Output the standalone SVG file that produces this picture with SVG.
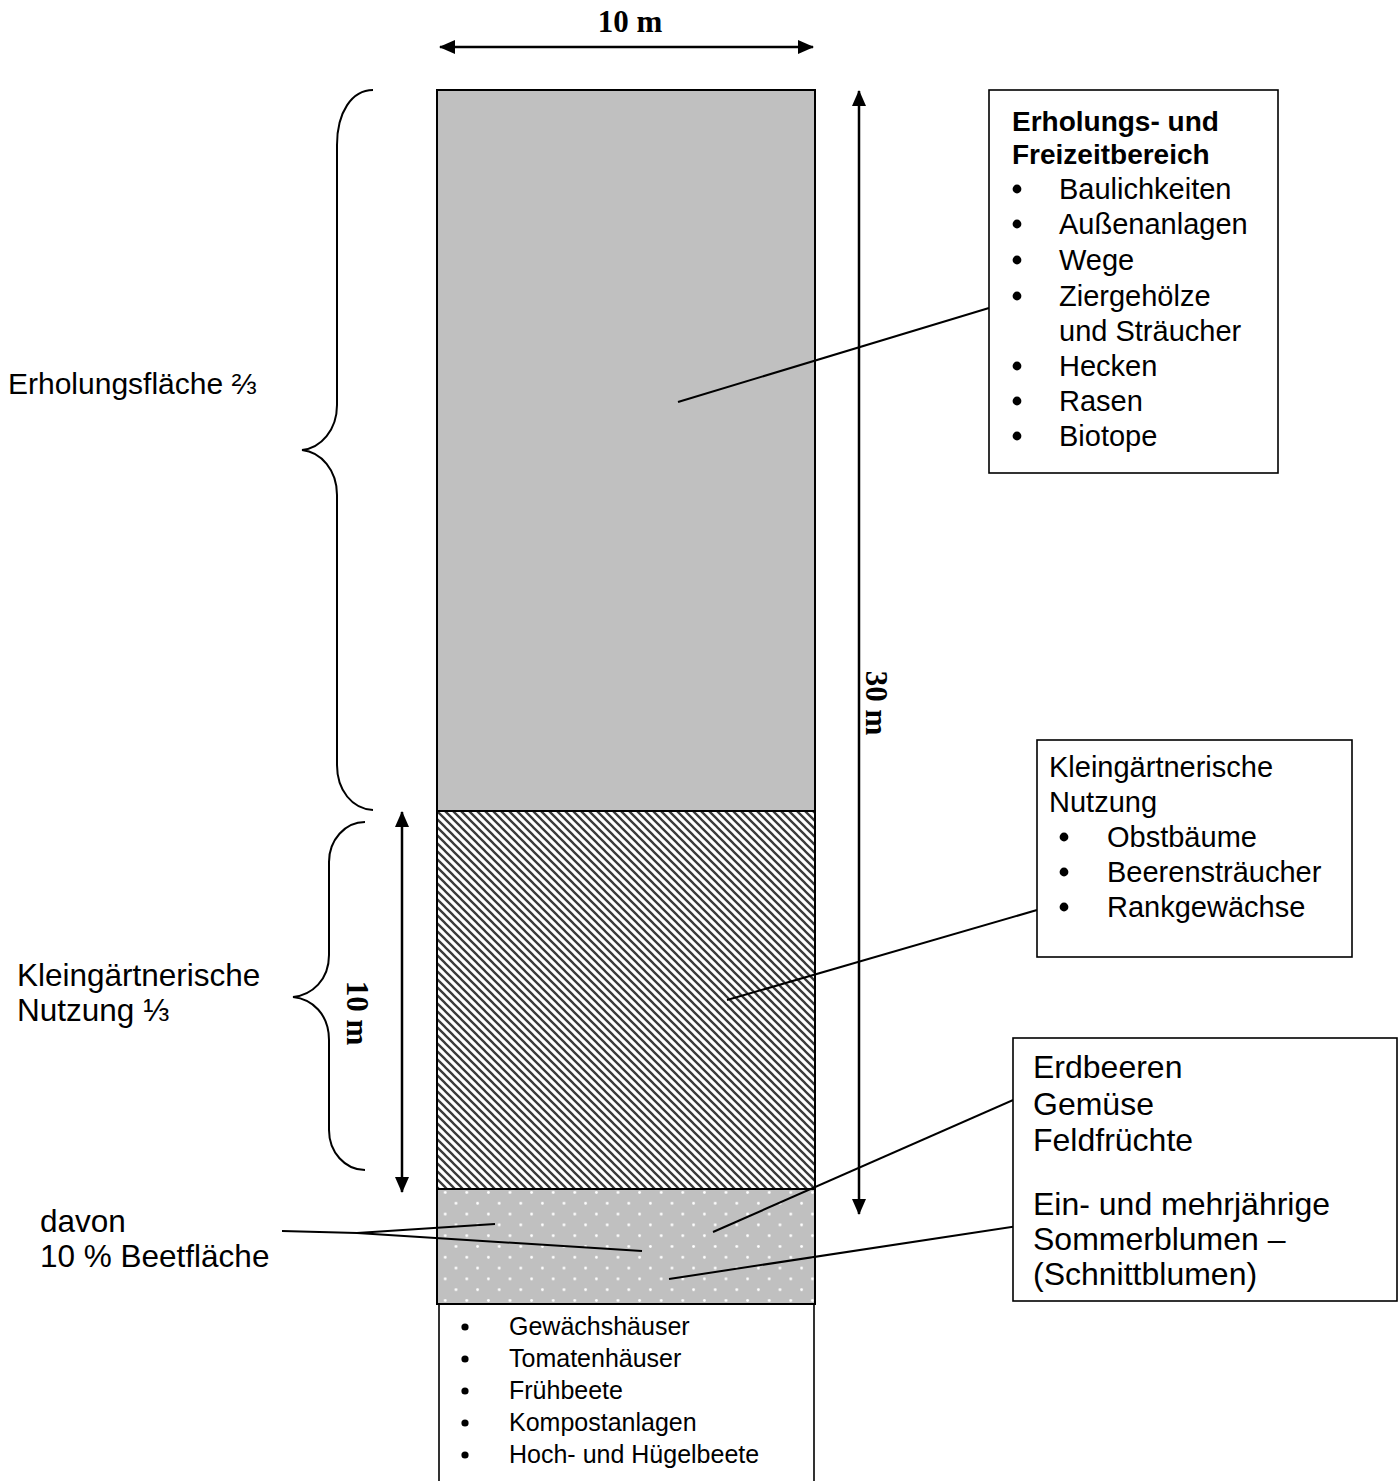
<svg xmlns="http://www.w3.org/2000/svg" width="1400" height="1481" viewBox="0 0 1400 1481">
<style>
.t{font-family:"Liberation Sans",Arial,sans-serif;fill:#000}
.dim{font-family:"Liberation Serif","Times New Roman",serif;font-weight:bold;font-size:31px;fill:#000}
.box{fill:#fff;stroke:#000;stroke-width:1.6}
.ln{fill:none;stroke:#000;stroke-width:2}
.ar{fill:none;stroke:#000;stroke-width:2.5}
.b{fill:#000}
</style>
<defs>
<pattern id="hatch" patternUnits="userSpaceOnUse" x="437" y="811" width="8" height="8">
<rect width="8" height="8" fill="#fff"/>
<path d="M-2,-2 L10,10 M-2,6 L2,10 M6,-2 L10,2" stroke="#3a3a3a" stroke-width="2.3"/>
</pattern>
<pattern id="dots" patternUnits="userSpaceOnUse" x="450.6" y="1197.9" width="21.6" height="21.6">
<rect width="21.6" height="21.6" fill="#c0c0c0"/>
<circle cx="5.4" cy="5.4" r="1.4" fill="#fff"/>
<circle cx="16.2" cy="16.2" r="1.4" fill="#fff"/>
</pattern>
<marker id="ah" viewBox="0 0 16 14" refX="15" refY="7" markerWidth="16" markerHeight="14" markerUnits="userSpaceOnUse" orient="auto-start-reverse">
<path d="M0,0 L16,7 L0,14 Z" fill="#000"/>
</marker>
</defs>
<rect width="1400" height="1481" fill="#fff"/>

<g id="plot">
<rect x="437" y="90" width="378" height="721" fill="#c0c0c0" stroke="#000" stroke-width="2"/>
<rect x="437" y="811" width="378" height="378" fill="url(#hatch)" stroke="#000" stroke-width="2"/>
<rect x="437" y="1189" width="378" height="115" fill="url(#dots)" stroke="#000" stroke-width="2"/>
<path d="M439,1304 L439,1481 M814,1304 L814,1481" stroke="#000" stroke-width="1.6" fill="none"/>
</g>

<g id="bottom-list">
<g class="b">
<circle cx="465" cy="1327" r="3.6"/>
<circle cx="465" cy="1359" r="3.6"/>
<circle cx="465" cy="1391" r="3.6"/>
<circle cx="465" cy="1423" r="3.6"/>
<circle cx="465" cy="1455" r="3.6"/>
</g>
<g class="t" font-size="25">
<text x="509" y="1335">Gewächshäuser</text>
<text x="509" y="1367">Tomatenhäuser</text>
<text x="509" y="1399">Frühbeete</text>
<text x="509" y="1431">Kompostanlagen</text>
<text x="509" y="1463">Hoch- und Hügelbeete</text>
</g>
</g>

<g id="dimensions">
<line x1="440" y1="47" x2="813" y2="47" class="ar" marker-start="url(#ah)" marker-end="url(#ah)"/>
<text x="630" y="32" class="dim" text-anchor="middle">10 m</text>
<line x1="859" y1="91" x2="859" y2="1214" class="ar" marker-start="url(#ah)" marker-end="url(#ah)"/>
<text class="dim" text-anchor="middle" transform="translate(866,703) rotate(90)">30 m</text>
<line x1="402" y1="812" x2="402" y2="1192" class="ar" marker-start="url(#ah)" marker-end="url(#ah)"/>
<text class="dim" text-anchor="middle" transform="translate(347,1013) rotate(90)">10 m</text>
</g>

<g id="braces">
<path class="ln" d="M373,90 C352,90 337,112 337,145 L337,405 C337,430 321,448 302,450 C321,452 337,470 337,495 L337,765 C337,790 352,809 373,810"/>
<path class="ln" d="M365,822 C345,822 329,840 329,862 L329,955 C329,980 312,995 293,997 C312,999 329,1014 329,1040 L329,1130 C329,1152 345,1170 365,1170"/>
</g>

<g id="left-labels" class="t" font-size="30">
<text x="8" y="394">Erholungsfläche ⅔</text>
<text x="17" y="986" font-size="31.5">Kleingärtnerische</text>
<text x="17" y="1021" font-size="31.5">Nutzung ⅓</text>
<text x="40" y="1232" font-size="31.5">davon</text>
<text x="40" y="1267" font-size="31.5">10 % Beetfläche</text>
</g>

<g id="connectors" class="ln">
<line x1="678" y1="402" x2="989" y2="308"/>
<line x1="727" y1="1000" x2="1037" y2="910"/>
<line x1="713" y1="1232" x2="1027" y2="1094"/>
<line x1="669" y1="1279" x2="1038" y2="1223"/>
<polyline points="282,1231 357,1233 495,1224"/>
<line x1="357" y1="1233" x2="642" y2="1251"/>
</g>

<g id="box-erholung">
<rect class="box" x="989" y="90" width="289" height="383"/>
<g class="t" font-size="28" font-weight="bold">
<text x="1012" y="131">Erholungs- und</text>
<text x="1012" y="164">Freizeitbereich</text>
</g>
<g class="b">
<circle cx="1017" cy="189" r="4.4"/>
<circle cx="1017" cy="224" r="4.4"/>
<circle cx="1017" cy="260" r="4.4"/>
<circle cx="1017" cy="296" r="4.4"/>
<circle cx="1017" cy="366" r="4.4"/>
<circle cx="1017" cy="401" r="4.4"/>
<circle cx="1017" cy="436" r="4.4"/>
</g>
<g class="t" font-size="29">
<text x="1059" y="199">Baulichkeiten</text>
<text x="1059" y="234">Außenanlagen</text>
<text x="1059" y="270">Wege</text>
<text x="1059" y="306">Ziergehölze</text>
<text x="1059" y="341">und Sträucher</text>
<text x="1059" y="376">Hecken</text>
<text x="1059" y="411">Rasen</text>
<text x="1059" y="446">Biotope</text>
</g>
</g>

<g id="box-klein">
<rect class="box" x="1037" y="740" width="315" height="217"/>
<g class="b">
<circle cx="1064" cy="837" r="4.4"/>
<circle cx="1064" cy="872" r="4.4"/>
<circle cx="1064" cy="907" r="4.4"/>
</g>
<g class="t" font-size="29">
<text x="1049" y="777">Kleingärtnerische</text>
<text x="1049" y="812">Nutzung</text>
<text x="1107" y="847">Obstbäume</text>
<text x="1107" y="882">Beerensträucher</text>
<text x="1107" y="917">Rankgewächse</text>
</g>
</g>

<g id="box-beet">
<rect class="box" x="1013" y="1038" width="384" height="263"/>
<g class="t" font-size="32">
<text x="1033" y="1078">Erdbeeren</text>
<text x="1033" y="1115">Gemüse</text>
<text x="1033" y="1151">Feldfrüchte</text>
<text x="1033" y="1215">Ein- und mehrjährige</text>
<text x="1033" y="1250">Sommerblumen –</text>
<text x="1033" y="1285">(Schnittblumen)</text>
</g>
</g>
</svg>
